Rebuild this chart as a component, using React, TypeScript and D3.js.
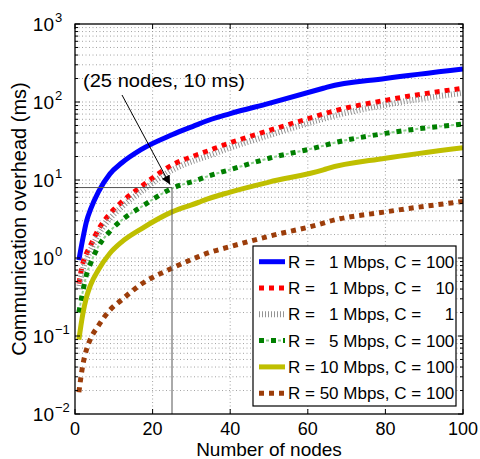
import React from 'react';
import * as d3 from 'd3';

const nodes = [1, 2, 3, 4, 6, 9, 12, 17, 25, 32, 33, 40, 50, 64, 65, 80, 100];
const r1c100 = [0.94, 1.75, 3.0, 4.2, 7.0, 12, 16.5, 24.5, 38, 52.5, 55, 71, 96, 150, 155, 200, 265];
const r1c10 = [0.47, 0.85, 1.15, 1.45, 2.3, 3.7, 5.2, 8.2, 15.5, 21.5, 22.4, 30, 43, 70, 72.5, 105, 150];
const r1c1 = [0.4, 0.72, 0.98, 1.25, 2.0, 3.2, 4.5, 7.1, 13.4, 18.7, 19.4, 26, 37.5, 61, 63, 92, 131];
const r5c100 = [0.2, 0.37, 0.62, 0.85, 1.4, 2.2, 3.05, 4.5, 7.8, 10.2, 10.65, 13.6, 19, 27.5, 28.4, 39.6, 52];
const r10c100 = [0.09, 0.19, 0.32, 0.45, 0.7, 1.15, 1.6, 2.35, 3.9, 5.2, 5.45, 7.0, 9.4, 13.5, 14.0, 19, 26];
const r50c100 = [0.019, 0.042, 0.068, 0.092, 0.135, 0.215, 0.29, 0.46, 0.74, 1.05, 1.1, 1.4, 1.9, 2.8, 2.9, 3.9, 5.3];

const legendLabels = [
  'R =   1 Mbps, C = 100',
  'R =   1 Mbps, C =   10',
  'R =   1 Mbps, C =     1',
  'R =   5 Mbps, C = 100',
  'R = 10 Mbps, C = 100',
  'R = 50 Mbps, C = 100',
];
const xTicks = [0, 20, 40, 60, 80, 100];
const yExps = [-2, -1, 0, 1, 2, 3];
const marked = { n: 25, ms: 8 };
const noteText = '(25 nodes, 10 ms)';

const W = 480;
const H = 459;
const m = { left: 75, right: 463, top: 24, bottom: 414 };
const font = '"Liberation Sans", Arial, Helvetica, sans-serif';

const series = [
  { values: r1c100, kind: 'solid', color: '#0000ff' },
  { values: r1c10, kind: 'square', color: '#ff0000' },
  { values: r1c1, kind: 'hatch', color: '#8a8a8a' },
  { values: r5c100, kind: 'dashdot', color: '#007f00' },
  { values: r10c100, kind: 'solid', color: '#bfbf00' },
  { values: r50c100, kind: 'square', color: '#9c3d0a' },
];

function Stroke({ d, kind, color }: { d: string; kind: string; color: string }) {
  if (kind === 'solid') return <path d={d} fill="none" stroke={color} strokeWidth={5} strokeLinejoin="round" />;
  if (kind === 'square') return <path d={d} fill="none" stroke={color} strokeWidth={5} strokeDasharray="5 5" />;
  if (kind === 'hatch') return <path d={d} fill="none" stroke={color} strokeWidth={6} strokeDasharray="0.9 2.1" />;
  return (
    <g>
      <path d={d} fill="none" stroke="#8fd08f" strokeWidth={2} strokeDasharray="0 7 3 2" />
      <path d={d} fill="none" stroke={color} strokeWidth={5} strokeDasharray="5 7" />
    </g>
  );
}

export default function App() {
  const x = d3.scaleLinear().domain([0, 100]).range([m.left, m.right]);
  const y = d3.scaleLog().domain([1e-2, 1e3]).range([m.bottom, m.top]);

  const line = d3
    .line<number>()
    .x((_, i) => x(nodes[i]))
    .y((d) => y(d))
    .curve(d3.curveMonotoneX);

  // minor + major decades for the log grid
  const yMinor: number[] = [];
  for (let e = -2; e < 3; e++) for (let k = 2; k <= 9; k++) yMinor.push(k * Math.pow(10, e));

  const gridStyle = { stroke: '#8c8c8c', strokeWidth: 0.8, strokeDasharray: '1 2.5' };

  const px = x(marked.n);
  const py = y(marked.ms);
  const ax0 = 122;
  const ay0 = 95;

  const legX = 253;
  const legY = 246;
  const rowH = 26.3;

  return (
    <svg width={W} height={H} style={{ position: 'absolute', left: 0, top: 0, background: '#fff' }} fontFamily={font}>
      <defs>
        <marker id="arr" viewBox="0 0 10 10" refX="10" refY="5" markerWidth="9" markerHeight="9" orient="auto" markerUnits="userSpaceOnUse">
          <path d="M0,0 L10,5 L0,10 z" fill="#000" />
        </marker>
        <clipPath id="plot">
          <rect x={m.left} y={m.top} width={m.right - m.left} height={m.bottom - m.top} />
        </clipPath>
      </defs>

      <rect x={m.left} y={m.top} width={m.right - m.left} height={m.bottom - m.top} fill="#fff" />

      {/* grid */}
      {xTicks.slice(1, -1).map((t) => (
        <line key={'gx' + t} x1={x(t)} x2={x(t)} y1={m.top} y2={m.bottom} {...gridStyle} />
      ))}
      {yMinor.concat(yExps.slice(1, -1).map((e) => Math.pow(10, e))).map((v, i) => (
        <line key={'gy' + i} x1={m.left} x2={m.right} y1={y(v)} y2={y(v)} {...gridStyle} />
      ))}

      {/* curves */}
      <g clipPath="url(#plot)">
        {series.map((s, i) => (
          <Stroke key={i} d={line(s.values) || ''} kind={s.kind} color={s.color} />
        ))}
      </g>

      {/* annotation */}
      <line x1={m.left} x2={px} y1={py} y2={py} stroke="#555" strokeWidth={1} />
      <line x1={px} x2={px} y1={py} y2={m.bottom} stroke="#555" strokeWidth={1} />
      <line x1={ax0} y1={ay0} x2={px - 2} y2={py - 3} stroke="#000" strokeWidth={1} markerEnd="url(#arr)" />
      <text x={83} y={86.5} fontSize={19} textLength={162} lengthAdjust="spacingAndGlyphs" fill="#000">
        {noteText}
      </text>

      {/* ticks */}
      {xTicks.map((t) => (
        <g key={'tx' + t}>
          <line x1={x(t)} x2={x(t)} y1={m.bottom} y2={m.bottom - 5} stroke="#000" />
          <line x1={x(t)} x2={x(t)} y1={m.top} y2={m.top + 5} stroke="#000" />
          <text x={x(t)} y={434.5} fontSize={18} textAnchor="middle" fill="#000">
            {t}
          </text>
        </g>
      ))}
      {yMinor.map((v, i) => (
        <g key={'tm' + i}>
          <line x1={m.left} x2={m.left + 3} y1={y(v)} y2={y(v)} stroke="#000" />
          <line x1={m.right} x2={m.right - 3} y1={y(v)} y2={y(v)} stroke="#000" />
        </g>
      ))}
      {yExps.map((e) => {
        const yy = y(Math.pow(10, e));
        return (
          <g key={'ty' + e}>
            <line x1={m.left} x2={m.left + 5} y1={yy} y2={yy} stroke="#000" />
            <line x1={m.right} x2={m.right - 5} y1={yy} y2={yy} stroke="#000" />
            <text x={54} y={yy + 7} fontSize={19} textAnchor="end" fill="#000">
              10
            </text>
            <text x={55} y={yy - 2} fontSize={13} fill="#000">
              {e < 0 ? '\u2212' + Math.abs(e) : String(e)}
            </text>
          </g>
        );
      })}

      <rect x={m.left} y={m.top} width={m.right - m.left} height={m.bottom - m.top} fill="none" stroke="#000" strokeWidth={1.3} />

      {/* axis titles */}
      <text x={(m.left + m.right) / 2} y={456} fontSize={19} textAnchor="middle" fill="#000">
        Number of nodes
      </text>
      <text transform={`translate(26,${(m.top + m.bottom) / 2}) rotate(-90)`} fontSize={20} textAnchor="middle" fill="#000">
        Communication overhead (ms)
      </text>

      {/* legend */}
      <rect x={legX} y={legY} width={203} height={160} fill="#fff" stroke="#000" strokeWidth={1.2} />
      {series.map((s, i) => {
        const cy = legY + 15.7 + i * rowH;
        const d = `M${legX + 6},${cy}L${legX + 32},${cy}`;
        return (
          <g key={'lg' + i}>
            <Stroke d={d} kind={s.kind} color={s.color} />
            <text x={legX + 35} y={cy + 6} fontSize={17} fill="#000" style={{ whiteSpace: 'pre' }}>
              {legendLabels[i]}
            </text>
          </g>
        );
      })}
    </svg>
  );
}
